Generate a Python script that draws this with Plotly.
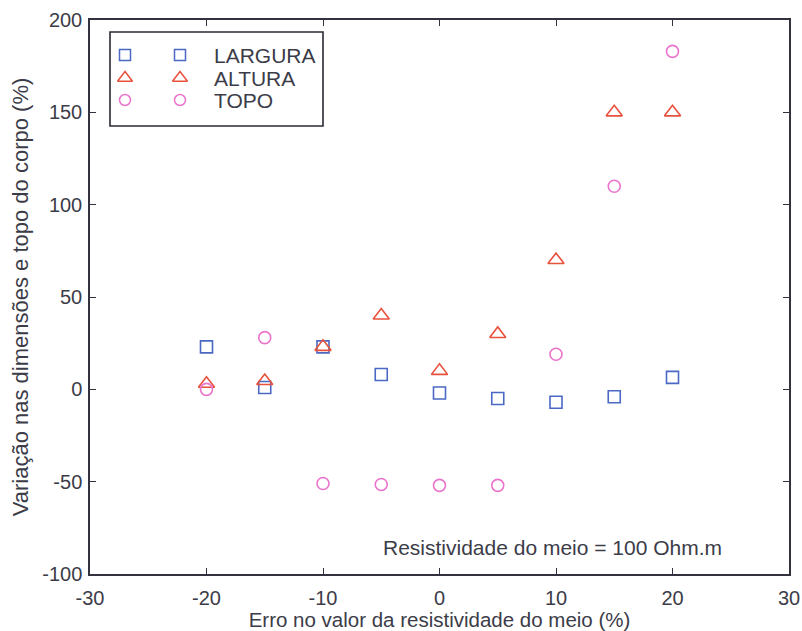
import plotly.graph_objects as go

# Erro no valor da resistividade do meio (%)
erro = [-20, -15, -10, -5, 0, 5, 10, 15, 20]

# Variação (%) para cada grandeza do corpo
largura = [23, 1, 23, 8, -2, -5, -7, -4, 6.5]
altura = [3, 4.5, 23, 40, 10, 30, 70, 150, 150]
topo = [0, 28, -51, -51.5, -52, -52, 19, 110, 183]

# Rótulos dos eixos (hífen simples, como no original)
xticks = [-30, -20, -10, 0, 10, 20, 30]
yticks = [-100, -50, 0, 50, 100, 150, 200]

nomes = ["LARGURA", "ALTURA", "TOPO"]
simbolos = ["square-open", "triangle-up-open", "circle-open"]
cores = ["#4a68c4", "#e8513c", "#ea74cc"]
tamanhos = [12, 14, 12]

FONT = "Liberation Sans, Arial, sans-serif"
TXT = "#3c3c48"
W, H = 802, 631
L, R, T, B = 90, 789, 20, 574

fig = go.Figure()
for serie, nome, simb, cor, tam in zip([largura, altura, topo], nomes, simbolos, cores, tamanhos):
    fig.add_trace(go.Scatter(
        x=erro, y=serie, mode="markers", name=nome, showlegend=False,
        marker=dict(symbol=simb, size=tam, color=cor, line=dict(width=1.6, color=cor)),
        cliponaxis=False,
    ))

# Legenda no estilo MATLAB: dois marcadores por entrada, desenhada num eixo sobreposto em pixels
leg_rows = [55, 78, 100]
for nome, simb, cor, tam, yy in zip(nomes, simbolos, cores, tamanhos, leg_rows):
    fig.add_trace(go.Scatter(
        x=[125, 180], y=[yy, yy], mode="markers", xaxis="x2", yaxis="y2",
        showlegend=False, hoverinfo="skip",
        marker=dict(symbol=simb, size=tam - 1, color=cor, line=dict(width=1.5, color=cor)),
    ))
    fig.add_annotation(x=212, y=yy, xref="x2", yref="y2", text=nome, showarrow=False,
                       xanchor="left", yanchor="middle",
                       font=dict(family=FONT, size=21, color=TXT))

fig.add_shape(type="rect", xref="x2", yref="y2", x0=110, x1=323, y0=32, y1=126,
              line=dict(color="#2a2a36", width=1.6), fillcolor="rgba(0,0,0,0)")

fig.add_annotation(x=381, y=547, xref="x2", yref="y2",
                   text="Resistividade do meio = 100 Ohm.m", showarrow=False,
                   xanchor="left", yanchor="middle",
                   font=dict(family=FONT, size=21, color=TXT))

axis_common = dict(
    showline=True, linecolor="#333340", linewidth=1.5, mirror="ticks",
    ticks="inside", ticklen=6, tickwidth=1.3, tickcolor="#333340",
    showgrid=False, zeroline=False, automargin=False,
    tickfont=dict(family=FONT, size=20, color=TXT),
)

fig.update_layout(
    width=W, height=H,
    margin=dict(l=L, r=W - R, t=T, b=H - B),
    paper_bgcolor="white", plot_bgcolor="white",
    xaxis=dict(range=[-30, 30], tickvals=xticks, ticktext=[str(v) for v in xticks],
               ticklabelstandoff=5,
               title=dict(text="Erro no valor da resistividade do meio (%)",
                          font=dict(family=FONT, size=20.5, color=TXT), standoff=6),
               **axis_common),
    yaxis=dict(range=[-100, 200], tickvals=yticks, ticktext=[str(v) for v in yticks],
               ticklabelstandoff=2,
               title=dict(text="Variação nas dimensões e topo do corpo (%)",
                          font=dict(family=FONT, size=22, color=TXT), standoff=8),
               **axis_common),
    xaxis2=dict(range=[L, R], overlaying="x", visible=False, fixedrange=True),
    yaxis2=dict(range=[B, T], overlaying="y", visible=False, fixedrange=True),
)

fig.write_html("out.html")
